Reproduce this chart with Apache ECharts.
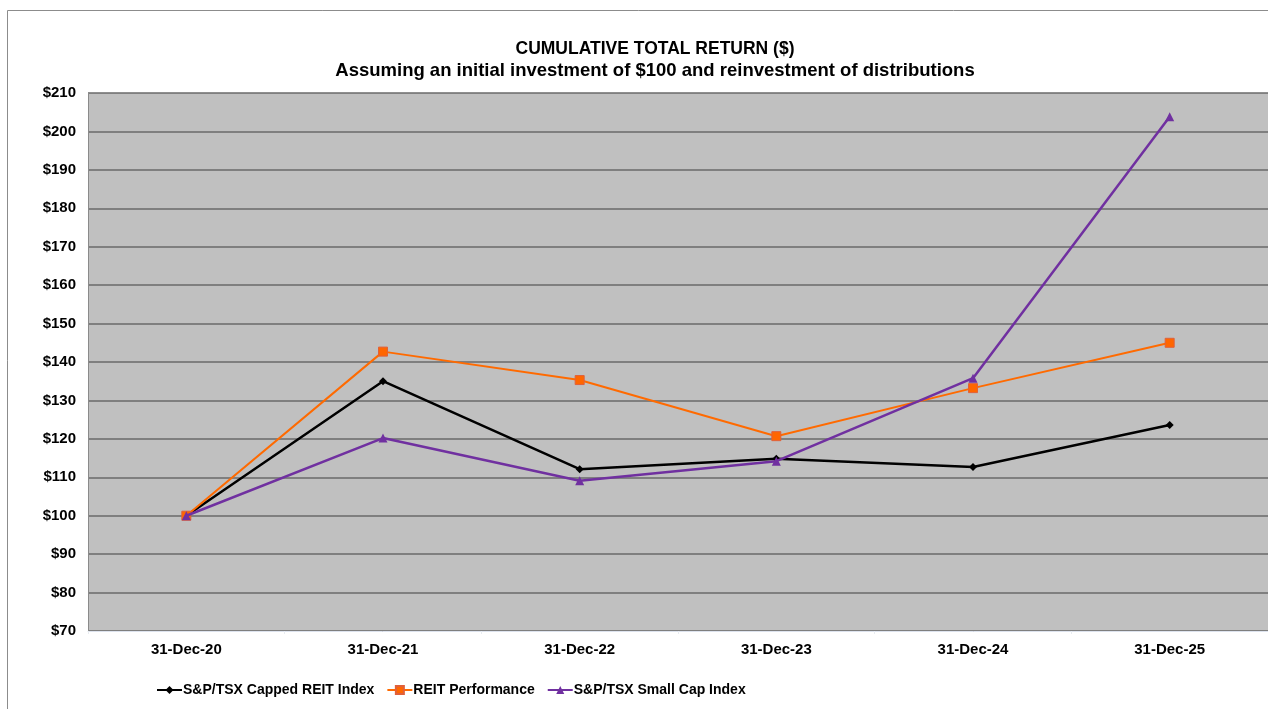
<!DOCTYPE html>
<html><head><meta charset="utf-8">
<script src="https://cdn.jsdelivr.net/npm/echarts@6/dist/echarts.min.js"></script>
<style>html,body{margin:0;padding:0;background:#fff}#c{width:1268px;height:709px}</style>
</head><body><div id="c"></div>
<script>
const categories = ['31-Dec-20','31-Dec-21','31-Dec-22','31-Dec-23','31-Dec-24','31-Dec-25'];
const cappedReit = [100, 135.0, 112.1, 114.8, 112.7, 123.6];
const reitPerf = [100, 142.7, 135.3, 120.7, 133.2, 145.0];
const smallCap = [100, 120.2, 109.1, 114.2, 135.8, 203.8];
const seriesNames = ['S&P/TSX Capped REIT Index','REIT Performance','S&P/TSX Small Cap Index'];

const chart = echarts.init(document.getElementById('c'), null, {renderer:'canvas'});
const F = 'Liberation Sans, Arial, sans-serif';
chart.setOption({
  animation:false,
  backgroundColor:'#fff',
  graphic:[
    {type:'rect',shape:{x:7.5,y:10.5,width:1280,height:720},style:{fill:'none',stroke:'#8c8c8c',lineWidth:1},z:-1},
    {type:'rect',shape:{x:88,y:93,width:1190,height:538},style:{fill:'#c0c0c0'},z:-2,silent:true}
  ],
  title:{text:'{a|CUMULATIVE TOTAL RETURN ($)}\n{b|Assuming an initial investment of $100 and reinvestment of distributions}',
    left:650, textAlign:'center', top:33,
    textStyle:{rich:{
      a:{fontFamily:F,fontSize:17.5,fontWeight:'bold',color:'#000',lineHeight:22,align:'center'},
      b:{fontFamily:F,fontSize:18.5,fontWeight:'bold',color:'#000',lineHeight:22,align:'center'}}}},
  legend:{top:678,left:151,itemGap:12,itemWidth:25,itemHeight:10,
    textStyle:{fontFamily:F,fontSize:14,fontWeight:'bold',color:'#000',padding:[0,0,0,-4]},
    data:seriesNames},
  grid:{left:88,right:-7,top:93,bottom:78},
  xAxis:{type:'category',data:categories,boundaryGap:true,
    axisLine:{lineStyle:{color:'#dde3ee',width:1}},
    axisTick:{show:true,length:3,lineStyle:{color:'#e8ecf2'}},
    axisLabel:{fontFamily:F,fontSize:15,fontWeight:'bold',color:'#000',margin:11}},
  yAxis:{type:'value',min:70,max:210,interval:10,
    axisLine:{show:true,lineStyle:{color:'#8a8a8a'}},
    axisTick:{show:false},
    splitLine:{lineStyle:{color:'#6a6a6a',width:1.5}},
    splitArea:{show:false},
    axisLabel:{fontFamily:F,fontSize:15,fontWeight:'bold',color:'#000',margin:12,formatter:v=>'$'+v}},
  series:[
    {name:seriesNames[0],type:'line',data:cappedReit,symbol:'diamond',symbolSize:8,
      lineStyle:{color:'#000',width:2.5},itemStyle:{color:'#000'},z:3},
    {name:seriesNames[1],type:'line',data:reitPerf,symbol:'rect',symbolSize:9,
      lineStyle:{color:'#ff6a00',width:2},itemStyle:{color:'#ff6600',borderColor:'#e0603a',borderWidth:1},z:4},
    {name:seriesNames[2],type:'line',data:smallCap,symbol:'triangle',symbolSize:9,
      lineStyle:{color:'#7030a0',width:2.5},itemStyle:{color:'#7030a0'},z:5}
  ]
});
</script></body></html>
